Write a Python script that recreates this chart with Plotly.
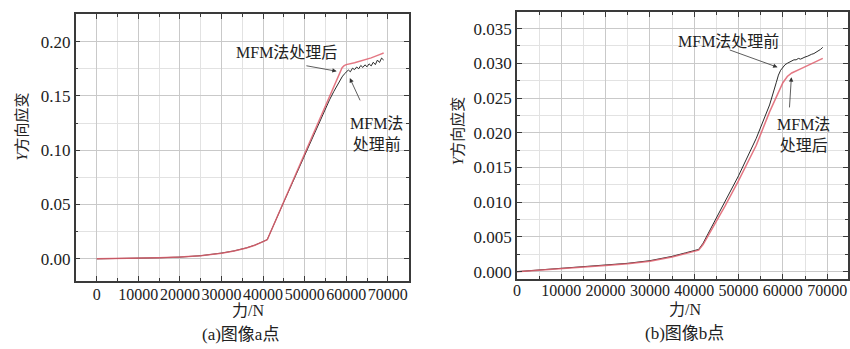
import plotly.graph_objects as go

# ---------------- data ----------------
# (a) point a
a_force_after = [0, 5000, 10000, 15000, 20000, 25000, 30000, 33000, 36000, 38000, 40000, 41000,
                 45000, 50000, 55000, 59000, 59500, 60000, 62000, 64000, 66000, 68000, 69000]
a_after = [0, 0.0002, 0.0005, 0.0010, 0.0016, 0.0028, 0.0052, 0.0072, 0.0100, 0.0125, 0.0158, 0.0176,
           0.0528, 0.0968, 0.1408, 0.1760, 0.1778, 0.1788, 0.1805, 0.1825, 0.1850, 0.1880, 0.1895]

a_force_before = [0, 5000, 10000, 15000, 20000, 25000, 30000, 33000, 36000, 38000, 40000, 41000,
                  45000, 50000, 53000, 55000, 56000, 57000, 58000, 58500, 59000, 59500, 60000,
                  60500, 61000, 61500, 62000, 62500, 63000, 63500, 64000, 64500, 65000, 65500,
                  66000, 66500, 67000, 67500, 68000, 68500, 69000]
a_before = [0, 0.0002, 0.0005, 0.0010, 0.0016, 0.0029, 0.0053, 0.0073, 0.0101, 0.0126, 0.0159, 0.0177,
            0.0525, 0.0960, 0.1220, 0.1385, 0.1465, 0.1540, 0.1610, 0.1645, 0.1675, 0.1700, 0.1715,
            0.1738, 0.1722, 0.1755, 0.1742, 0.1766, 0.1750, 0.1780, 0.1762, 0.1786, 0.1768, 0.1795,
            0.1776, 0.1810, 0.1788, 0.1830, 0.1808, 0.1848, 0.1830]

# (b) point b
b_force_after = [0, 5000, 10000, 15000, 20000, 25000, 30000, 35000, 38000, 40000, 41000, 42000, 43000,
                 45000, 47000, 50000, 54000, 57000, 59000, 60000, 61000, 62000, 64000, 66000, 68000, 69000]
b_after = [0, 0.0002, 0.00045, 0.0007, 0.0009, 0.00115, 0.0015, 0.0021, 0.0026, 0.0029, 0.0031, 0.0039,
           0.0050, 0.0072, 0.0095, 0.0131, 0.0182, 0.0230, 0.0258, 0.0272, 0.0281, 0.0286, 0.0292,
           0.0298, 0.0304, 0.0307]

b_force_before = [0, 5000, 10000, 15000, 20000, 25000, 30000, 35000, 38000, 40000, 41000, 42000, 43000,
                  45000, 47000, 50000, 54000, 57000, 58500, 59000, 59500, 60000, 60500, 61000, 61500,
                  62000, 62500, 63000, 63500, 64000, 64500, 65000, 65500, 66000, 66500, 67000, 67500,
                  68000, 68500, 69000]
b_before = [0, 0.00022, 0.00048, 0.00073, 0.00095, 0.0012, 0.00158, 0.0022, 0.0027, 0.0030, 0.0032,
            0.0041, 0.0053, 0.0076, 0.0100, 0.0138, 0.0192, 0.0240, 0.0272, 0.0283, 0.0290, 0.0294,
            0.0298, 0.0300, 0.0302, 0.0303, 0.0305, 0.0305, 0.0307, 0.0306, 0.0308, 0.0309, 0.0310,
            0.0312, 0.0313, 0.0314, 0.0316, 0.0317, 0.0320, 0.0323]

x_ticks = [0, 10000, 20000, 30000, 40000, 50000, 60000, 70000]
a_y_ticks = [0.00, 0.05, 0.10, 0.15, 0.20]
b_y_ticks = [0.000, 0.005, 0.010, 0.015, 0.020, 0.025, 0.030, 0.035]

label_after = "MFM法处理后"
label_before = "MFM法处理前"
y_title = "<i>Y</i>方向应变"
x_title = "力/N"
cap_a = "(a)图像a点"
cap_b = "(b)图像b点"

# ---------------- styling ----------------
RED = "#e0606e"
BLK = "#2b2b2b"
SERIF = "Liberation Serif, Noto Sans CJK SC, serif"
TXT = "#222222"

fig = go.Figure()
fig.add_trace(go.Scatter(x=a_force_before, y=a_before, mode="lines", line=dict(color=BLK, width=1.0),
                         xaxis="x", yaxis="y", showlegend=False))
fig.add_trace(go.Scatter(x=a_force_after, y=a_after, mode="lines", line=dict(color=RED, width=1.5),
                         opacity=0.85, xaxis="x", yaxis="y", showlegend=False))
fig.add_trace(go.Scatter(x=b_force_before, y=b_before, mode="lines", line=dict(color=BLK, width=1.0),
                         xaxis="x2", yaxis="y2", showlegend=False))
fig.add_trace(go.Scatter(x=b_force_after, y=b_after, mode="lines", line=dict(color=RED, width=1.5),
                         opacity=0.85, xaxis="x2", yaxis="y2", showlegend=False))

common = dict(showline=True, linecolor="#3a3a3a", linewidth=1.5, mirror="ticks",
              ticks="inside", ticklen=5, tickwidth=1.2, tickcolor="#3a3a3a",
              showgrid=True, gridcolor="#c9c9c9", gridwidth=1, zeroline=False, tickangle=0)
xfont = dict(family=SERIF, size=16, color=TXT)
yfont = dict(family=SERIF, size=17, color=TXT)


def minor(d):
    return dict(dtick=d, ticks="inside", ticklen=3, tickcolor="#3a3a3a",
                showgrid=True, gridcolor="#e2e2e2", gridwidth=1)


fig.update_layout(
    width=850, height=349,
    margin=dict(l=0, r=0, t=0, b=0),
    paper_bgcolor="white", plot_bgcolor="white",
    xaxis=dict(domain=[72 / 850, 407 / 850], range=[-5100, 75000], tickvals=x_ticks,
               tickformat="d", minor=minor(5000), anchor="y", tickfont=xfont,
               ticklabelstandoff=-2, **common),
    yaxis=dict(domain=[1 - 283 / 349, 1 - 14 / 349], range=[-0.02, 0.2255], tickvals=a_y_ticks,
               tickformat=".2f", minor=minor(0.025), anchor="x", tickfont=yfont, **common),
    xaxis2=dict(domain=[516 / 850, 849 / 850], range=[0, 74700], tickvals=x_ticks,
                tickformat="d", minor=minor(5000), anchor="y2", tickfont=xfont,
                ticklabelstandoff=-4, **common),
    yaxis2=dict(domain=[1 - 281 / 349, 1 - 12 / 349], range=[-0.001, 0.0374], tickvals=b_y_ticks,
                tickformat=".3f", minor=minor(0.0025), anchor="x2", tickfont=yfont, **common),
)

lab_font = dict(family=SERIF, size=16, color=TXT)
ann = []
# left panel labels + arrows
ann.append(dict(xref="x", yref="y", x=45700, y=0.190, text=label_after, showarrow=False, font=lab_font,
                xanchor="center", yanchor="middle"))
ann.append(dict(xref="x", yref="y", x=57700, y=0.1727, ax=50050, ay=0.178, axref="x", ayref="y",
                text="", showarrow=True, arrowhead=2, arrowsize=1.1, arrowwidth=0.8, arrowcolor="#333"))
ann.append(dict(xref="x", yref="y", x=67300, y=0.1150, text="MFM法<br>处理前", showarrow=False,
                font=lab_font, align="center", xanchor="center", yanchor="middle"))
ann.append(dict(xref="x", yref="y", x=60860, y=0.1664, ax=63500, ay=0.1445, axref="x", ayref="y",
                text="", showarrow=True, arrowhead=2, arrowsize=1.1, arrowwidth=0.8, arrowcolor="#333"))
# right panel labels + arrows
ann.append(dict(xref="x2", yref="y2", x=47660, y=0.0331, text=label_before, showarrow=False, font=lab_font,
                xanchor="center", yanchor="middle"))
ann.append(dict(xref="x2", yref="y2", x=58800, y=0.02943, ax=47660, ay=0.0320, axref="x2", ayref="y2",
                text="", showarrow=True, arrowhead=2, arrowsize=1.1, arrowwidth=0.8, arrowcolor="#333"))
ann.append(dict(xref="x2", yref="y2", x=64600, y=0.0197, text="MFM法<br>处理后", showarrow=False,
                font=lab_font, align="center", xanchor="center", yanchor="middle"))
ann.append(dict(xref="x2", yref="y2", x=61920, y=0.0280, ax=61470, ay=0.02343, axref="x2", ayref="y2",
                text="", showarrow=True, arrowhead=2, arrowsize=1.1, arrowwidth=0.8, arrowcolor="#333"))
# axis titles and captions
title_font = dict(family=SERIF, size=15, color=TXT)
paper = dict(xref="paper", yref="paper", showarrow=False, xanchor="center", yanchor="middle")
ann.append(dict(x=18 / 850, y=1 - 128 / 349, text=y_title, textangle=-90, font=title_font, **paper))
ann.append(dict(x=457 / 850, y=1 - 132 / 349, text=y_title, textangle=-90, font=title_font, **paper))
ann.append(dict(x=245 / 850, y=1 - 313 / 349, text=x_title, font=dict(family=SERIF, size=16, color=TXT), **paper))
ann.append(dict(x=685 / 850, y=1 - 312 / 349, text=x_title, font=dict(family=SERIF, size=16, color=TXT), **paper))
ann.append(dict(x=238 / 850, y=1 - 337 / 349, text=cap_a, font=dict(family=SERIF, size=17, color=TXT), **paper))
ann.append(dict(x=685 / 850, y=1 - 336 / 349, text=cap_b, font=dict(family=SERIF, size=17, color=TXT), **paper))
fig.update_layout(annotations=ann)

fig.write_html("out.html", config={"displayModeBar": False},
               post_script="document.body.style.margin='0';")
